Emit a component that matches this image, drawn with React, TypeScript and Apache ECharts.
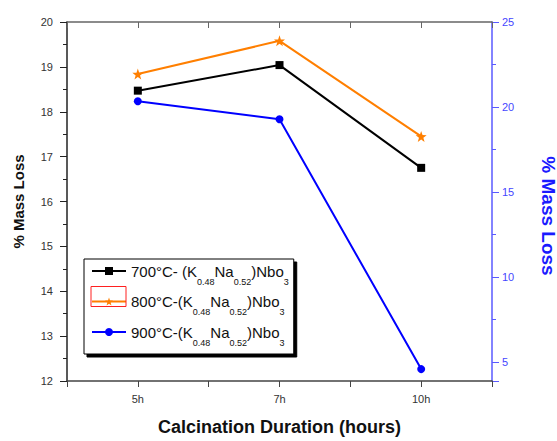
import React, { useEffect, useRef } from 'react';
import * as echarts from 'echarts';

const categories = ['5h', '7h', '10h'];
const mass700 = [18.47, 19.04, 16.75];
const mass800 = [18.84, 19.58, 17.45];
const mass900 = [20.34, 19.28, 4.6];
const legendPrefixes = ['700°C- ', '800°C-', '900°C-'];
const seriesNames = legendPrefixes.map((p) => `${p}(K0.48Na0.52)Nbo3`);

const FONT = "'Liberation Sans', Arial, sans-serif";
const STAR =
  'path://M0,-10L2.35,-3.24L9.51,-3.09L3.8,1.24L5.88,8.09L0,4L-5.88,8.09L-3.8,1.24L-9.51,-3.09L-2.35,-3.24Z';

export default function App() {
  const ref = useRef<HTMLDivElement>(null);
  useEffect(() => {
    const chart = echarts.init(ref.current!, null, { renderer: 'svg' });
    const pts = (vals: number[]) => vals.map((v, i) => [i + 1, v]);
    const rich: any = {
      m: { fontSize: 15, lineHeight: 20, fontFamily: FONT, color: '#111' },
      s: {
        fontSize: 9,
        lineHeight: 1,
        verticalAlign: 'top',
        padding: [16, 0, 0, 0],
        fontFamily: FONT,
        color: '#111',
      },
    };
    const option: any = {
      animation: false,
      backgroundColor: '#fff',
      grid: { left: 67, right: 65, top: 22, bottom: 54, containLabel: false },
      legend: {
        orient: 'vertical',
        left: 84,
        top: 259,
        padding: [2, 5, 7, 7],
        itemGap: 5.5,
        itemWidth: 34,
        itemHeight: 10,
        backgroundColor: '#fff',
        borderColor: '#000',
        borderWidth: 1,
        shadowColor: '#000',
        shadowBlur: 0,
        shadowOffsetX: 3,
        shadowOffsetY: 3,
        selectedMode: false,
        data: seriesNames,
        textStyle: { fontFamily: FONT, fontSize: 15, color: '#111', rich },
        formatter: (name: string) => {
          const i = seriesNames.indexOf(name);
          return `{m|${legendPrefixes[i]}(K}{s|0.48}{m|Na}{s|0.52}{m|)Nbo}{s|3}`;
        },
      },
      xAxis: [
        {
          type: 'value',
          position: 'bottom',
          min: 0.5,
          max: 3.5,
          interval: 0.5,
          axisLine: { show: true, lineStyle: { color: '#444', width: 1.5 } },
          axisTick: { show: true, inside: false, length: 6, lineStyle: { color: '#444' } },
          axisLabel: {
            formatter: (v: number) => (Number.isInteger(v) ? categories[v - 1] : ''),
            fontSize: 11,
            color: '#333',
            margin: 12,
            fontFamily: FONT,
          },
          splitLine: { show: false },
          name: 'Calcination Duration (hours)',
          nameLocation: 'middle',
          nameGap: 37,
          nameTextStyle: { fontSize: 18, fontWeight: 'bold', color: '#111', fontFamily: FONT },
        },
        {
          type: 'value',
          position: 'top',
          min: 0.5,
          max: 3.5,
          interval: 0.5,
          axisLine: { show: true, lineStyle: { color: '#666', width: 1.5 } },
          axisTick: { show: true, inside: true, length: 6, lineStyle: { color: '#666' } },
          axisLabel: { show: false },
          splitLine: { show: false },
        },
      ],
      yAxis: [
        {
          type: 'value',
          position: 'left',
          min: 12,
          max: 20,
          interval: 1,
          axisLine: { show: true, lineStyle: { color: '#222', width: 1.5 } },
          axisTick: { show: true, length: 7, lineStyle: { color: '#222' } },
          minorTick: { show: true, splitNumber: 2, length: 4, lineStyle: { color: '#222' } },
          axisLabel: { fontSize: 11, color: '#333', margin: 14, fontFamily: FONT },
          splitLine: { show: false },
          name: '% Mass Loss',
          nameLocation: 'middle',
          nameGap: 41,
          nameTextStyle: { fontSize: 15, fontWeight: 'bold', color: '#111', fontFamily: FONT },
        },
        {
          type: 'value',
          position: 'right',
          min: 3.9,
          max: 25,
          axisLine: { show: true, lineStyle: { color: '#5a5aff', width: 1.5 } },
          axisTick: { show: true, length: 7, lineStyle: { color: '#5a5aff' } },
          minorTick: { show: true, splitNumber: 2, length: 4, lineStyle: { color: '#5a5aff' } },
          axisLabel: { showMinLabel: false, fontSize: 11, color: '#4646ff', margin: 10, fontFamily: FONT },
          splitLine: { show: false },
        },
      ],
      graphic: [
        {
          type: 'rect',
          z: 100,
          shape: { x: 91, y: 286.5, width: 35, height: 20 },
          style: { fill: 'none', stroke: '#ff2020', lineWidth: 1 },
        },
        {
          type: 'text',
          x: 548,
          y: 216,
          rotation: -Math.PI / 2,
          style: {
            text: '% Mass Loss',
            align: 'center',
            verticalAlign: 'middle',
            fontSize: 19,
            fontWeight: 'bold',
            fontFamily: FONT,
            fill: '#1a1aff',
          },
        },
      ],
      series: [
        {
          name: seriesNames[0],
          type: 'line',
          xAxisIndex: 0,
          yAxisIndex: 0,
          data: pts(mass700),
          symbol: 'rect',
          symbolSize: 8,
          lineStyle: { color: '#000', width: 2 },
          itemStyle: { color: '#000' },
        },
        {
          name: seriesNames[1],
          type: 'line',
          xAxisIndex: 0,
          yAxisIndex: 0,
          data: pts(mass800),
          symbol: STAR,
          symbolSize: 11,
          lineStyle: { color: '#ff7f00', width: 2 },
          itemStyle: { color: '#ff7f00' },
        },
        {
          name: seriesNames[2],
          type: 'line',
          xAxisIndex: 0,
          yAxisIndex: 1,
          data: pts(mass900),
          symbol: 'circle',
          symbolSize: 8,
          lineStyle: { color: '#0000ff', width: 2 },
          itemStyle: { color: '#0000ff' },
        },
      ],
    };
    chart.setOption(option);
    return () => chart.dispose();
  }, []);
  return (
    <div
      ref={ref}
      style={{ position: 'fixed', left: 0, top: 0, width: 557, height: 441 }}
    />
  );
}
